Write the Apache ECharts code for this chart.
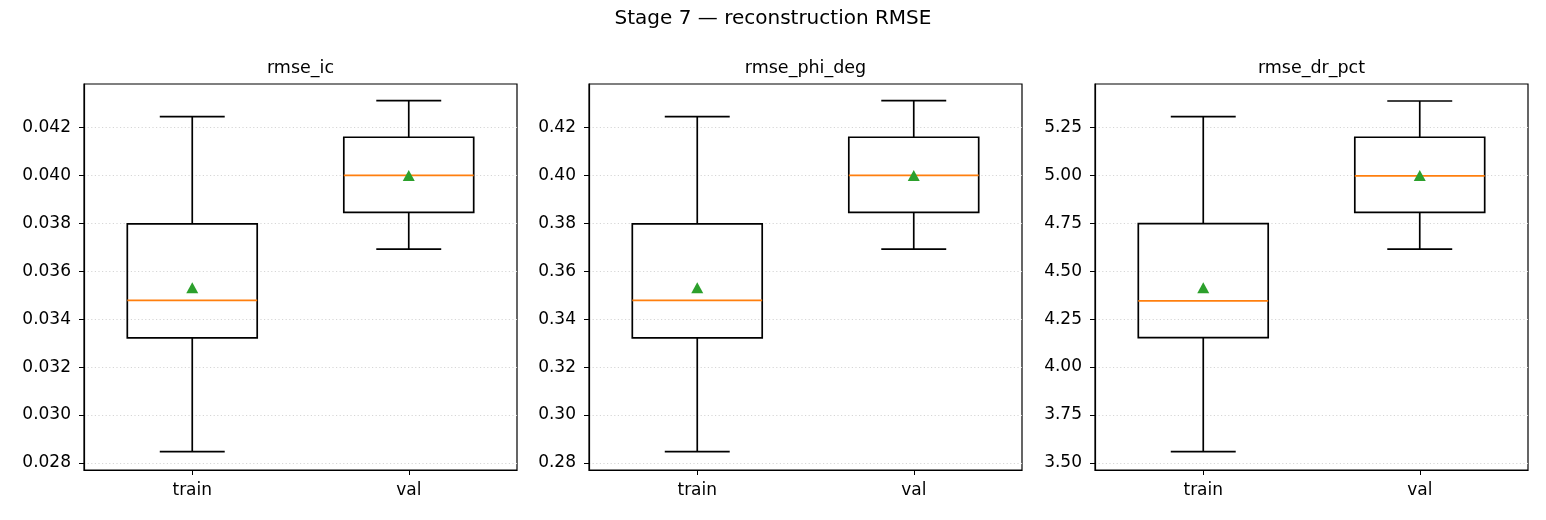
<!DOCTYPE html>
<html>
<head>
<meta charset="utf-8">
<script src="https://cdn.jsdelivr.net/npm/echarts@6/dist/echarts.min.js"></script>
<style>
html, body { margin: 0; padding: 0; background: #fff; }
#chart { width: 1546px; height: 520px; }
</style>
</head>
<body>
<div id="chart"></div>
<script>
// Stage 7 reconstruction RMSE — three boxplot panels (train vs val).
const categories = ['train', 'val'];
const panelTitles = ['rmse_ic', 'rmse_phi_deg', 'rmse_dr_pct'];

// each box: [low whisker, q1, median, q3, high whisker]
const icBoxes = [
  [0.02848, 0.03322, 0.03478, 0.03797, 0.04244],
  [0.03692, 0.03845, 0.03999, 0.04158, 0.04311],
];
const icMeans = [0.03531, 0.03999];
const icTicks = [0.028, 0.030, 0.032, 0.034, 0.036, 0.038, 0.040, 0.042];

const phiBoxes = [
  [0.2848, 0.3322, 0.3478, 0.3797, 0.4244],
  [0.3692, 0.3845, 0.3999, 0.4158, 0.4311],
];
const phiMeans = [0.3531, 0.3999];
const phiTicks = [0.28, 0.30, 0.32, 0.34, 0.36, 0.38, 0.40, 0.42];

const drBoxes = [
  [3.559, 4.154, 4.345, 4.748, 5.305],
  [4.615, 4.806, 4.997, 5.198, 5.387],
];
const drMeans = [4.413, 4.999];
const drTicks = [3.50, 3.75, 4.00, 4.25, 4.50, 4.75, 5.00, 5.25];

const yRanges = [[0.02771, 0.0438], [0.2771, 0.438], [3.4635, 5.4755]];
const decimals = [3, 2, 2];

const panels = [
  { boxes: icBoxes, means: icMeans, ticks: icTicks },
  { boxes: phiBoxes, means: phiMeans, ticks: phiTicks },
  { boxes: drBoxes, means: drMeans, ticks: drTicks },
];

const FONT = 'DejaVu Sans';
const gridLefts = [84, 589, 1095];
const gridWidth = 433;

function renderBox(params, api) {
  const x = api.value(0);
  const pLow = api.coord([x, api.value(1)]);
  const pQ1 = api.coord([x, api.value(2)]);
  const pMed = api.coord([x, api.value(3)]);
  const pQ3 = api.coord([x, api.value(4)]);
  const pHigh = api.coord([x, api.value(5)]);
  const band = api.size([1, 0])[0];
  const half = band * 0.3;
  const cap = band * 0.15;
  const cx = pMed[0];
  const black = { stroke: '#000', lineWidth: 1.7, fill: null };
  return {
    type: 'group',
    children: [
      { type: 'line', shape: { x1: cx, y1: pQ3[1], x2: cx, y2: pHigh[1] }, style: black },
      { type: 'line', shape: { x1: cx, y1: pQ1[1], x2: cx, y2: pLow[1] }, style: black },
      { type: 'line', shape: { x1: cx - cap, y1: pHigh[1], x2: cx + cap, y2: pHigh[1] }, style: black },
      { type: 'line', shape: { x1: cx - cap, y1: pLow[1], x2: cx + cap, y2: pLow[1] }, style: black },
      { type: 'rect', shape: { x: cx - half, y: pQ3[1], width: half * 2, height: pQ1[1] - pQ3[1] }, style: black },
      { type: 'line', shape: { x1: cx - half, y1: pMed[1], x2: cx + half, y2: pMed[1] }, style: { stroke: '#ff7f0e', lineWidth: 1.7 } },
    ],
  };
}

const grids = [], xAxes = [], yAxes = [], series = [];
const titles = [{
  text: 'Stage 7 — reconstruction RMSE',
  left: 773, top: 9, textAlign: 'center', padding: 0,
  textStyle: { fontFamily: FONT, fontSize: 20, fontWeight: 'normal', color: '#000' },
}];

panels.forEach(function (p, i) {
  grids.push({ left: gridLefts[i], width: gridWidth, top: 84, height: 386, show: true, borderColor: '#000', borderWidth: 1.2, backgroundColor: 'transparent' });
  titles.push({
    text: panelTitles[i], left: gridLefts[i] + gridWidth / 2, top: 59, textAlign: 'center', padding: 0,
    textStyle: { fontFamily: FONT, fontSize: 17.5, fontWeight: 'normal', color: '#000' },
  });
  xAxes.push({
    type: 'category', gridIndex: i, data: categories, boundaryGap: true,
    axisLine: { show: true, lineStyle: { color: '#000', width: 1.2 } },
    axisTick: { show: true, alignWithLabel: true, length: 5, lineStyle: { color: '#000' } },
    axisLabel: { color: '#000', fontFamily: FONT, fontSize: 17, margin: 12 },
    splitLine: { show: false },
  });
  yAxes.push({
    type: 'value', gridIndex: i, min: yRanges[i][0], max: yRanges[i][1], scale: true,
    axisLine: { show: true, lineStyle: { color: '#000', width: 1.2 } },
    axisTick: { show: true, length: 5, lineStyle: { color: '#000' }, customValues: p.ticks },
    axisLabel: {
      color: '#000', fontFamily: FONT, fontSize: 17, margin: 13, customValues: p.ticks,
      formatter: (function (d) { return function (v) { return v.toFixed(d); }; })(decimals[i]),
    },
    splitLine: { show: true, lineStyle: { color: '#d6d6d6', width: 1, type: [1.2, 2.4] } },
  });
  series.push({
    type: 'custom', xAxisIndex: i, yAxisIndex: i, renderItem: renderBox, z: 3,
    data: p.boxes.map(function (b, k) { return [k].concat(b); }),
    encode: { x: 0, y: [1, 2, 3, 4, 5] },
  });
  series.push({
    type: 'scatter', xAxisIndex: i, yAxisIndex: i, symbol: 'triangle', symbolSize: [12, 11], z: 5,
    itemStyle: { color: '#2ca02c', opacity: 1 },
    data: p.means.map(function (m, k) { return [k, m]; }),
  });
});

const chart = echarts.init(document.getElementById('chart'), null, { renderer: 'canvas' });
chart.setOption({
  backgroundColor: '#fff',
  animation: false,
  title: titles,
  grid: grids,
  xAxis: xAxes,
  yAxis: yAxes,
  series: series,
});
</script>
</body>
</html>
